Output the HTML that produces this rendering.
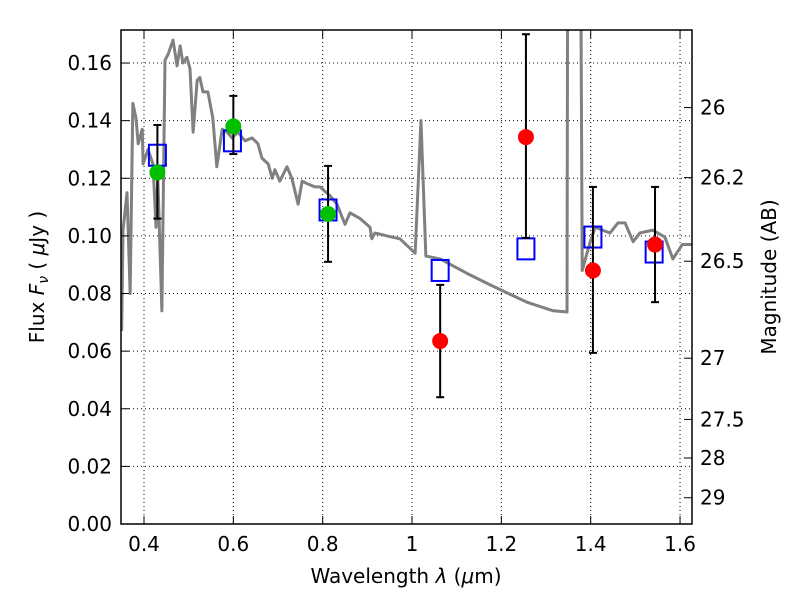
<!DOCTYPE html>
<html><head><meta charset="utf-8"><style>
body{margin:0;background:#fff}
svg text{font-family:"DejaVu Sans","Liberation Sans",sans-serif;font-size:20px;fill:#000}
</style></head><body>
<svg id="chart" width="800" height="600" xmlns="http://www.w3.org/2000/svg">
<rect width="800" height="600" fill="#fff"/>
<defs><clipPath id="pc"><rect x="121" y="30" width="571" height="494"/></clipPath></defs>
<g id="grid"></g>
<g id="spec" clip-path="url(#pc)"></g>
<g id="marks" clip-path="url(#pc)"></g>
<rect x="121" y="30" width="571" height="494" fill="none" stroke="#000" stroke-width="1.5"/>
<g id="axes"></g>
<text x="406" y="583" text-anchor="middle">Wavelength  <tspan font-style="italic">λ</tspan> (<tspan font-style="italic">μ</tspan>m)</text>
<text transform="translate(44,277) rotate(-90)" text-anchor="middle">Flux  <tspan font-style="italic">F</tspan><tspan font-style="italic" font-size="14" dy="4">ν</tspan><tspan dy="-4">  ( </tspan><tspan font-style="italic">μ</tspan>Jy )</text>
<text transform="translate(776,277) rotate(-90)" text-anchor="middle">Magnitude (AB)</text>
</svg>
<script>
const specLam=[0.350,0.353,0.362,0.369,0.375,0.382,0.387,0.396,0.398,0.409,0.420,0.427,0.431,0.440,0.447,0.454,0.465,0.474,0.481,0.487,0.496,0.503,0.510,0.519,0.525,0.532,0.543,0.554,0.563,0.575,0.586,0.597,0.610,0.626,0.642,0.655,0.664,0.678,0.687,0.693,0.704,0.720,0.731,0.745,0.754,0.767,0.783,0.794,0.816,0.832,0.850,0.861,0.884,0.906,0.910,0.917,0.944,0.973,1.007,1.020,1.031,1.063,1.123,1.175,1.257,1.316,1.347,1.349,1.376,1.381,1.398,1.410,1.443,1.461,1.477,1.495,1.510,1.539,1.566,1.584,1.605,1.627];
const specFlux=[0.067,0.102,0.115,0.080,0.146,0.141,0.132,0.137,0.125,0.130,0.125,0.103,0.120,0.074,0.161,0.163,0.168,0.159,0.166,0.160,0.162,0.158,0.136,0.154,0.155,0.150,0.150,0.141,0.124,0.137,0.136,0.134,0.136,0.133,0.134,0.132,0.127,0.125,0.120,0.123,0.119,0.124,0.120,0.111,0.119,0.118,0.117,0.117,0.114,0.111,0.104,0.108,0.106,0.103,0.099,0.101,0.100,0.099,0.094,0.140,0.093,0.092,0.087,0.083,0.077,0.074,0.0736,0.25,0.25,0.088,0.0975,0.103,0.101,0.1045,0.1045,0.098,0.101,0.102,0.0996,0.092,0.097,0.097];
const bandLam=[0.430,0.598,0.812,1.063,1.255,1.405,1.542];
const modelFlux=[0.128,0.133,0.109,0.088,0.0955,0.0996,0.0944];
const obsLam=[0.430,0.600,0.812,1.063,1.255,1.405,1.544];
const obsFlux=[0.122,0.138,0.1076,0.0635,0.1343,0.088,0.097];
const errLo=[0.106,0.1284,0.091,0.044,0.0993,0.0594,0.077];
const errHi=[0.1385,0.1486,0.1243,0.083,0.170,0.117,0.117];
const obsColor=['#00c000','#00c000','#00c000','#ff0000','#ff0000','#ff0000','#ff0000'];
const xTicks=[0.4,0.6,0.8,1.0,1.2,1.4,1.6];
const xTickLabels=['0.4','0.6','0.8','1','1.2','1.4','1.6'];
const yTicks=[0,0.02,0.04,0.06,0.08,0.10,0.12,0.14,0.16];
const yTickLabels=['0.00','0.02','0.04','0.06','0.08','0.10','0.12','0.14','0.16'];
const magTicks=[26,26.2,26.5,27,27.5,28,29];
const magTickLabels=['26','26.2','26.5','27','27.5','28','29'];

const NS='http://www.w3.org/2000/svg';
const X=v=>144+(v-0.4)*446.7;
const Y=v=>524-v*2881;
const M=m=>Y(Math.pow(10,-0.4*(m-23.9)));
function mk(tag,attrs,parent){const e=document.createElementNS(NS,tag);for(const k in attrs)e.setAttribute(k,attrs[k]);parent.appendChild(e);return e;}
const grid=document.getElementById('grid'),axes=document.getElementById('axes'),spec=document.getElementById('spec'),marks=document.getElementById('marks');
xTicks.forEach((t,i)=>{const x=X(t);
 const g=mk('line',{x1:x,x2:x,y1:30,y2:524,stroke:'#000','stroke-width':1,'stroke-dasharray':'1,3'},grid);
 
 mk('line',{x1:x,x2:x,y1:524,y2:516,stroke:'#000'},axes);mk('line',{x1:x,x2:x,y1:30,y2:38,stroke:'#000'},axes);
 const tx=mk('text',{x:x,y:551,'text-anchor':'middle'},axes);tx.textContent=xTickLabels[i];
 });
yTicks.forEach((t,i)=>{const y=Y(t);
 const g=mk('line',{x1:121,x2:692,y1:y,y2:y,stroke:'#000','stroke-width':1,'stroke-dasharray':'1,3'},grid);
 
 mk('line',{x1:121,x2:129,y1:y,y2:y,stroke:'#000'},axes);
 const tx=mk('text',{x:112,y:y+7,'text-anchor':'end'},axes);tx.textContent=yTickLabels[i];
 });
magTicks.forEach((m,i)=>{const y=M(m);
 mk('line',{x1:684,x2:692,y1:y,y2:y,stroke:'#000'},axes);
 const tx=mk('text',{x:700,y:y+7},axes);tx.textContent=magTickLabels[i];
 });
const pl=mk('polyline',{points:specLam.map((l,i)=>X(l)+','+Y(specFlux[i])).join(' '),fill:'none',stroke:'#808080','stroke-width':3,'stroke-linejoin':'round'},spec);

bandLam.forEach((l,i)=>{const x=X(l),y=Y(modelFlux[i]);
 const r=mk('rect',{x:x-8.5,y:y-10.5,width:17,height:21,fill:'none',stroke:'#0000ff','stroke-width':2},marks);
 });
obsLam.forEach((l,i)=>{const x=X(l);
 const e=mk('line',{x1:x,x2:x,y1:Y(errLo[i]),y2:Y(errHi[i]),stroke:'#000','stroke-width':2},marks);
 
 [errLo[i],errHi[i]].forEach(v=>mk('line',{x1:x-4,x2:x+4,y1:Y(v),y2:Y(v),stroke:'#000','stroke-width':2},marks));
 const c=mk('circle',{cx:x,cy:Y(obsFlux[i]),r:8,fill:obsColor[i]},marks);
 });
</script>
</body></html>
